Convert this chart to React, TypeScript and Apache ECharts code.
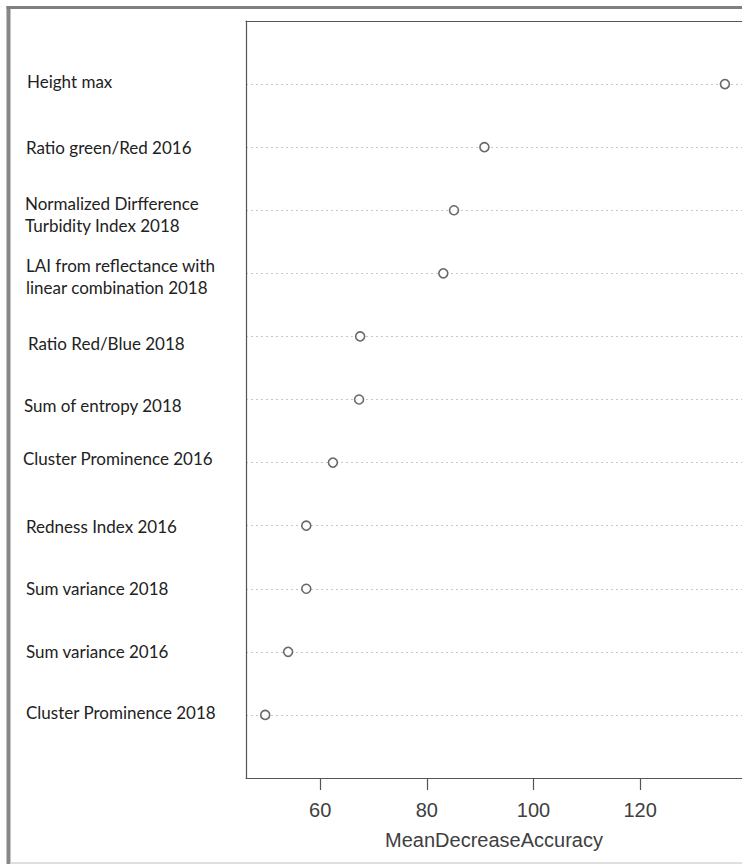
import React, { useEffect, useRef } from "react";
import * as echarts from "echarts";

// Categories listed from top to bottom
const categories: string[] = [
  "Height max",
  "Ratio green/Red 2016",
  "Normalized Dirfference\nTurbidity Index 2018",
  "LAI from reflectance with\nlinear combination 2018",
  "Ratio Red/Blue 2018",
  "Sum of entropy 2018",
  "Cluster Prominence 2016",
  "Redness Index 2016",
  "Sum variance 2018",
  "Sum variance 2016",
  "Cluster Prominence 2018",
];

const meanDecreaseAccuracy: number[] = [
  135.9, 90.8, 85.1, 83.1, 67.5, 67.3, 62.4, 57.4, 57.4, 54.0, 49.7,
];

const xTicks: number[] = [60, 80, 100, 120];
const xAxisName = "MeanDecreaseAccuracy";

// label nudges (layout only): [dx, dy] in px, same order as categories
const LABEL_NUDGE: [number, number][] = [
  [4, -3], [3, 0], [2, 4], [3, 3], [5, 7], [1, 6], [0, -4], [3, 1], [3, 0], [3, 0], [3, -2],
];

export default function App() {
  const ref = useRef<HTMLDivElement>(null);

  useEffect(() => {
    if (!ref.current) return;
    const chart = echarts.init(ref.current, undefined, { renderer: "svg" });
    const n = categories.length;
    const points = categories.map((c, i) => [meanDecreaseAccuracy[i], n - i]);

    const rich: Record<string, any> = {};
    LABEL_NUDGE.forEach(([dx, dy], i) => {
      rich["l" + i] = {
        fontFamily: "Lato",
        fontSize: 17,
        lineHeight: 22,
        color: "#222222",
        padding: [Math.max(0, 2 * dy), 0, Math.max(0, -2 * dy), dx],
      };
    });

    const boxLine = { show: true, lineStyle: { color: "#555555", width: 1.2 } };

    chart.setOption({
      animation: false,
      backgroundColor: "#ffffff",
      grid: {
        left: 246,
        top: 21,
        right: 0,
        bottom: 86,
        show: false,
        containLabel: false,
      },
      xAxis: [
        {
          type: "value",
          position: "bottom",
          min: 46.1,
          max: 139.1,
          name: xAxisName,
          nameLocation: "middle",
          nameGap: 52,
          nameTextStyle: {
            fontFamily: "Liberation Sans",
            fontSize: 20,
            color: "#404040",
          },
          axisLine: boxLine,
          axisTick: {
            show: true,
            length: 12,
            customValues: xTicks,
            lineStyle: { color: "#555555", width: 1.2 },
          },
          axisLabel: {
            customValues: xTicks,
            margin: 22,
            fontFamily: "Liberation Sans",
            fontSize: 20,
            color: "#404040",
          },
          splitLine: { show: false },
        },
        {
          type: "value",
          position: "top",
          min: 46.1,
          max: 139.1,
          axisLine: boxLine,
          axisTick: { show: false },
          axisLabel: { show: false },
          splitLine: { show: false },
        },
      ],
      yAxis: {
        type: "value",
        min: 0,
        max: 12,
        interval: 1,
        axisLine: boxLine,
        axisTick: { show: false },
        splitLine: {
          show: true,
          lineStyle: { color: "#c8c8c8", type: [2, 3], width: 1 },
        },
        axisLabel: {
          align: "left",
          margin: 223,
          fontFamily: "Lato",
          fontSize: 17,
          lineHeight: 22,
          color: "#222222",
          rich,
          formatter: (v: number) => {
            if (v < 1 || v > n) return "";
            const idx = n - v;
            const lines = categories[idx].split("\n");
            return lines.map((s) => `{l${idx}|${s}}`).join("\n");
          },
        },
      },
      series: [
        {
          type: "scatter",
          xAxisIndex: 0,
          data: points,
          symbol: "circle",
          symbolSize: 9,
          itemStyle: {
            color: "#ffffff",
            borderColor: "#444444",
            borderWidth: 1.6,
          },
          z: 5,
        },
      ],
      graphic: [
        {
          type: "line",
          shape: { x1: 8.5, y1: 6, x2: 8.5, y2: 864 },
          style: { stroke: "#878787", lineWidth: 4 },
          silent: true,
        },
        {
          type: "line",
          shape: { x1: 6.5, y1: 7.5, x2: 742, y2: 7.5 },
          style: { stroke: "#808080", lineWidth: 3 },
          silent: true,
        },
        {
          type: "line",
          shape: { x1: 10, y1: 863, x2: 742, y2: 863 },
          style: { stroke: "#d4d4d4", lineWidth: 1.5 },
          silent: true,
        },
      ],
    });

    return () => chart.dispose();
  }, []);

  return (
    <div
      ref={ref}
      style={{ position: "absolute", left: 0, top: 0, width: 742, height: 864 }}
    />
  );
}
